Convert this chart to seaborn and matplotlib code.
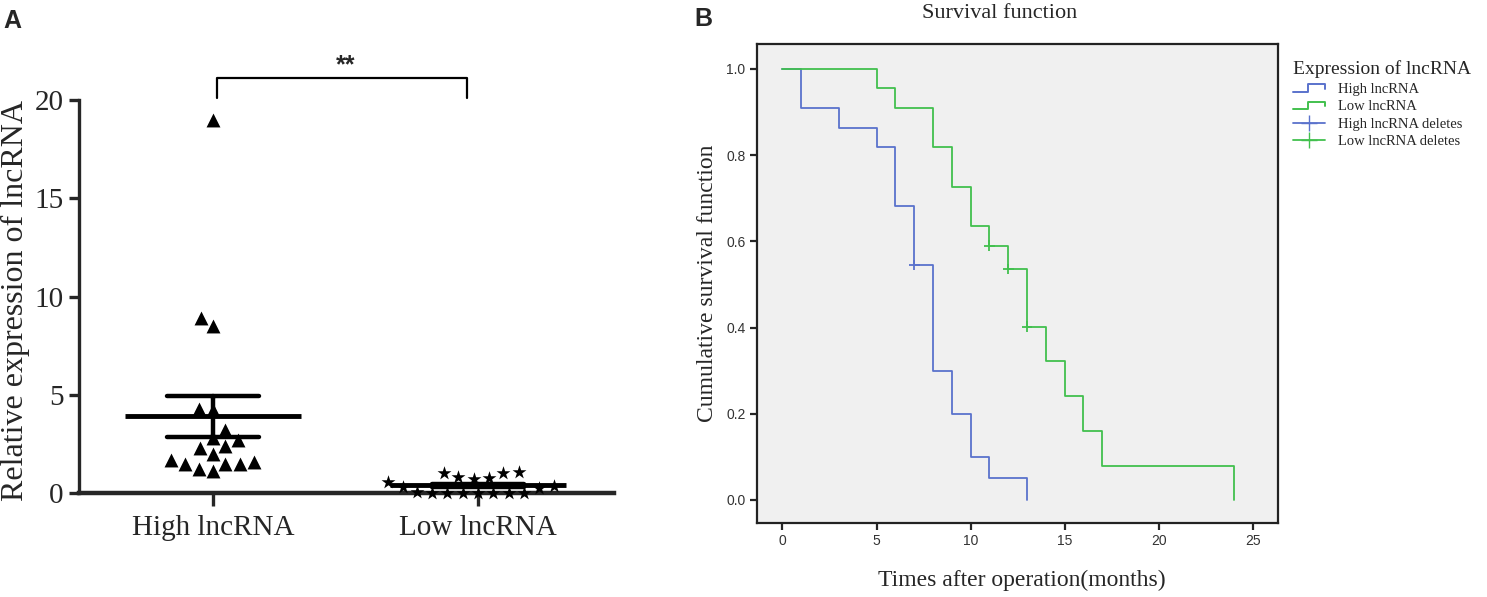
import pandas as pd
import matplotlib.pyplot as plt
import seaborn as sns
from matplotlib.lines import Line2D
from matplotlib.legend_handler import HandlerBase

# panel A: relative expression per group
groups = ['High lncRNA', 'Low lncRNA']
high_vals = [19.0, 8.9, 8.5, 4.3, 4.2, 3.2, 2.8, 2.7, 2.4, 2.3, 2.0, 1.7,
             1.5, 1.5, 1.5, 1.6, 1.1, 1.2]
low_vals = [0.83, 0.71, 1.0, 1.0, 1.05, 0.57, 0.74,
            0.0, 0.02, 0.01, 0.03, 0.0, 0.02, 0.01, 0.02,
            0.25, 0.30, 0.35]

# panel B: Kaplan-Meier steps
high_t = [0, 1, 3, 5, 6, 7, 8, 9, 10, 11, 13]
high_s = [1.0, 0.909, 0.864, 0.818, 0.682, 0.545, 0.300, 0.200, 0.100, 0.050, 0.0]
low_t = [0, 5, 6, 8, 9, 10, 11, 12, 13, 14, 15, 16, 17, 24]
low_s = [1.0, 0.955, 0.909, 0.818, 0.727, 0.636, 0.590, 0.536, 0.402, 0.322,
         0.241, 0.161, 0.080, 0.0]
high_cens_t = [7]
high_cens_s = [0.545]
low_cens_t = [11, 12, 13]
low_cens_s = [0.590, 0.536, 0.402]

BLUE = '#5a72cc'
GREEN = '#42c04e'
SERIF = 'Liberation Serif'
SANS = 'Liberation Sans'

sns.set_style('ticks')
plt.rcParams['font.family'] = [SERIF, 'DejaVu Serif']

fig = plt.figure(figsize=(14.87, 5.97), dpi=100)

# ---------------- panel A ----------------
axA = fig.add_axes([0.0531, 0.1742, 0.3598, 0.6583])
dfA = pd.DataFrame({'group': ['High lncRNA'] * len(high_vals) + ['Low lncRNA'] * len(low_vals),
                    'value': high_vals + low_vals})

sns.swarmplot(data=dfA[dfA.group == 'High lncRNA'], x='group', y='value', order=groups,
              marker='^', color='black', size=10, ax=axA, clip_on=False, zorder=3)
sns.swarmplot(data=dfA[dfA.group == 'Low lncRNA'], x='group', y='value', order=groups,
              marker='*', color='black', size=10.5, ax=axA, clip_on=False, zorder=3)
sns.pointplot(data=dfA, x='group', y='value', order=groups, errorbar='se', capsize=0.35,
              color='black', linestyle='none', marker='_', markersize=127,
              markeredgewidth=3.5, err_kws={'linewidth': 3.2}, ax=axA, zorder=4)

axA.set_xlim(-0.506, 1.513)
axA.set_ylim(0, 20)
axA.set_yticks([0, 5, 10, 15, 20])
sns.despine(ax=axA)
axA.spines['left'].set_linewidth(2.4)
axA.spines['bottom'].set_linewidth(3.2)
axA.tick_params(axis='y', length=7, width=2.4, pad=4, labelsize=21)
axA.tick_params(axis='x', length=9, width=2.4, pad=7, labelsize=21)
axA.set_xlabel('')
axA.set_ylabel('Relative expression of lncRNA', fontsize=23)
axA.yaxis.set_label_coords(-0.091, 0.49)

# significance bracket
axA.plot([0.015, 0.015, 0.96, 0.96], [20.1, 21.13, 21.13, 20.1], color='black',
         lw=1.6, clip_on=False)
axA.text(0.5, 21.75, '**', ha='center', va='center', fontsize=18, fontweight='bold',
         family=SANS)

fig.text(0.002, 0.965, 'A', fontsize=18, fontweight='bold', family=SANS, va='center')

# ---------------- panel B ----------------
axB = fig.add_axes([0.5089, 0.1235, 0.3508, 0.8028])
axB.set_facecolor('#f0f0f0')

km = pd.DataFrame({'time': high_t + low_t,
                   'surv': high_s + low_s,
                   'group': ['High lncRNA'] * len(high_t) + ['Low lncRNA'] * len(low_t)})
cens = pd.DataFrame({'time': high_cens_t + low_cens_t,
                     'surv': high_cens_s + low_cens_s,
                     'group': ['High lncRNA'] * len(high_cens_t) + ['Low lncRNA'] * len(low_cens_t)})
pal = {'High lncRNA': BLUE, 'Low lncRNA': GREEN}

sns.lineplot(data=km, x='time', y='surv', hue='group', palette=pal, estimator=None,
             sort=False, drawstyle='steps-post', linewidth=1.3, legend=False, ax=axB)
sns.scatterplot(data=cens, x='time', y='surv', hue='group', palette=pal, marker='+',
                s=60, linewidth=1.3, legend=False, ax=axB, zorder=5)

axB.set_xlim(-1.37, 26.37)
axB.set_ylim(-0.054, 1.058)
axB.set_xticks([0, 5, 10, 15, 20, 25])
axB.set_yticks([0.0, 0.2, 0.4, 0.6, 0.8, 1.0])
axB.set_yticklabels([f'{v:.1f}' for v in [0.0, 0.2, 0.4, 0.6, 0.8, 1.0]])
for sp in axB.spines.values():
    sp.set_linewidth(1.6)
    sp.set_color('#222222')
axB.tick_params(length=5, width=1.6, labelsize=10, labelcolor='#333333', pad=3)
for lab in axB.get_xticklabels() + axB.get_yticklabels():
    lab.set_family(SANS)

axB.set_xlabel('Times after operation(months)', fontsize=17)
axB.set_ylabel('Cumulative survival function', fontsize=17)
axB.xaxis.set_label_coords(0.508, -0.097)
axB.yaxis.set_label_coords(-0.075, 0.5)

fig.text(1000 / 1487, 1 - 14 / 597, 'Survival function', ha='center', va='center', fontsize=16)
fig.text(703 / 1487, 1 - 19 / 597, 'B', ha='center', va='center', fontsize=18,
         fontweight='bold', family=SANS)


class StepHandler(HandlerBase):
    def create_artists(self, legend, orig_handle, xdescent, ydescent, width, height,
                       fontsize, trans):
        x0 = -xdescent
        y0 = -ydescent + 0.1 * height
        y1 = -ydescent + 0.85 * height
        xs = [x0, x0 + 0.45 * width, x0 + 0.45 * width, x0 + width, x0 + width]
        ys = [y0, y0, y1, y1, y0 + 0.3 * height]
        return [Line2D(xs, ys, color=orig_handle.get_color(), lw=1.4, transform=trans)]


h_high = Line2D([], [], color=BLUE)
h_low = Line2D([], [], color=GREEN)
h_hc = Line2D([], [], color=BLUE, marker='+', markersize=11, lw=1.3)
h_lc = Line2D([], [], color=GREEN, marker='+', markersize=11, lw=1.3)
leg = fig.legend([h_high, h_low, h_hc, h_lc],
                 ['High lncRNA', 'Low lncRNA', 'High lncRNA deletes', 'Low lncRNA deletes'],
                 handler_map={h_high: StepHandler(), h_low: StepHandler()},
                 loc='upper left', bbox_to_anchor=(1283 / 1487, 1 - 50 / 597),
                 frameon=False, title='Expression of lncRNA', title_fontsize=14,
                 prop={'family': SERIF, 'size': 10.5}, handlelength=2.2,
                 handletextpad=0.9, labelspacing=0.3, borderpad=0.2)
leg._legend_box.align = 'left'

fig.savefig('out.png', dpi=100)
